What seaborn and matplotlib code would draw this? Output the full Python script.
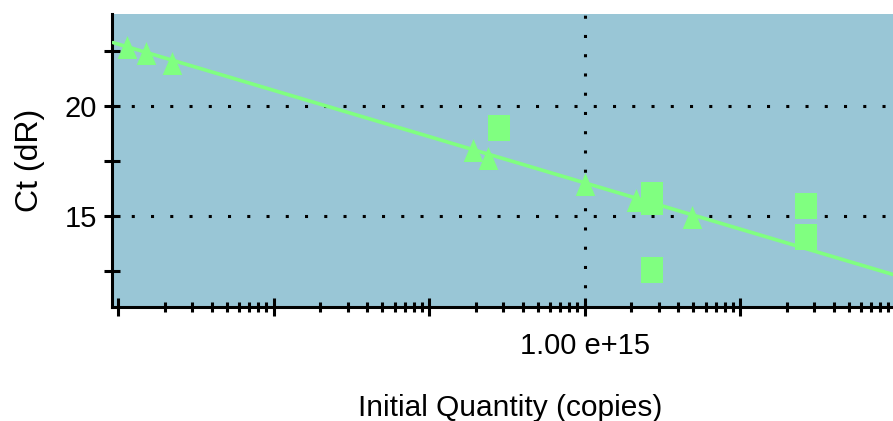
import numpy as np
import pandas as pd
import matplotlib
matplotlib.use("Agg")
import matplotlib.pyplot as plt
import seaborn as sns
from matplotlib.ticker import FixedLocator, FuncFormatter, LogLocator, NullFormatter

# ---- data ----
std_quantity = [1.143e12, 1.514e12, 2.223e12, 1.919e14, 2.393e14, 1.0e15, 2.143e15, 4.909e15]
std_ct = [22.68, 22.40, 21.95, 18.00, 17.64, 16.45, 15.73, 14.95]

unk_quantity = [2.818e14, 2.716e15, 2.716e15, 2.716e15, 2.655e16, 2.655e16]
unk_ct = [19.00, 15.95, 15.64, 12.55, 15.45, 14.05]

fit_quantity = [9.3e11, 9.6e16]
fit_ct = [22.88, 12.34]

y_major_ticks = [15, 20]
y_minor_ticks = [12.5, 17.5, 22.5]
x_labeled_ticks = [1e15]
x_labeled_text = ["1.00 e+15"]

BG = "#99C6D6"
GREEN = "#80FF80"

sns.set_style("white")
plt.rcParams["font.family"] = ["Liberation Sans", "DejaVu Sans"]

fig = plt.figure(figsize=(8.93, 4.21), dpi=100)
ax = fig.add_axes([112 / 893, 1 - 307 / 421, 1 - 112 / 893, (307 - 14) / 421])
ax.set_facecolor(BG)

std_df = pd.DataFrame({"q": std_quantity, "ct": std_ct})
unk_df = pd.DataFrame({"q": unk_quantity, "ct": unk_ct})
fit_df = pd.DataFrame({"q": fit_quantity, "ct": fit_ct})

tri = [(0, 1), (-0.85, -1), (0.85, -1)]
rect = [(-0.85, -1), (0.85, -1), (0.85, 1), (-0.85, 1)]

sns.lineplot(data=fit_df, x="q", y="ct", ax=ax, color=GREEN, linewidth=2.6,
             estimator=None, zorder=3)
sns.scatterplot(data=std_df, x="q", y="ct", ax=ax, marker=tri, s=275,
                color=GREEN, linewidth=0, zorder=4)
sns.scatterplot(data=unk_df, x="q", y="ct", ax=ax, marker=rect, s=350,
                color=GREEN, linewidth=0, zorder=4)

ax.set_xscale("log")
ax.set_xlim(10 ** 11.961, 10 ** 16.984)
ax.set_ylim(10.86, 24.18)

# ticks
ax.yaxis.set_major_locator(FixedLocator(y_major_ticks))
ax.yaxis.set_minor_locator(FixedLocator(y_minor_ticks))
ax.xaxis.set_major_locator(LogLocator(base=10, numticks=20))
ax.xaxis.set_minor_locator(LogLocator(base=10, subs=np.arange(2, 10), numticks=20))
ax.xaxis.set_minor_formatter(NullFormatter())
ax.yaxis.set_minor_formatter(NullFormatter())
lab = dict(zip(x_labeled_ticks, x_labeled_text))


def fmt(v, p):
    for k, t in lab.items():
        if abs(np.log10(v) - np.log10(k)) < 1e-3:
            return t
    return ""


ax.xaxis.set_major_formatter(FuncFormatter(fmt))

ax.tick_params(axis="y", which="both", direction="inout", length=11.5, width=2.2,
               color="black", labelsize=21, pad=5, labelcolor="black", left=True)
ax.tick_params(axis="x", which="major", direction="inout", length=12.5, width=2.2,
               color="black", labelsize=21, pad=12, labelcolor="black", bottom=True)
ax.tick_params(axis="x", which="minor", direction="inout", length=7.5, width=2.2,
               color="black", bottom=True)

for s in ["top", "right"]:
    ax.spines[s].set_visible(False)
for s in ["left", "bottom"]:
    ax.spines[s].set_visible(True)
    ax.spines[s].set_color("black")
    ax.spines[s].set_linewidth(2.2)

# grid: dotted lines at labeled ticks
dot = (0, (1, 5.3))
ax.yaxis.grid(True, which="major", color="black", linestyle=dot, linewidth=2.2, zorder=1)
ax.xaxis.grid(False)
for xv in x_labeled_ticks:
    ax.axvline(xv, color="black", linestyle=dot, linewidth=2.2, zorder=1)
ax.set_axisbelow(True)

ax.set_xlabel("Initial Quantity (copies)", fontsize=21.5, color="black")
ax.xaxis.set_label_coords((510 - 112) / 781, (307 - 394) / 293)
ax.set_ylabel("Ct (dR)", fontsize=23, labelpad=14, color="black")

fig.savefig("out.png", dpi=100, facecolor="white")
